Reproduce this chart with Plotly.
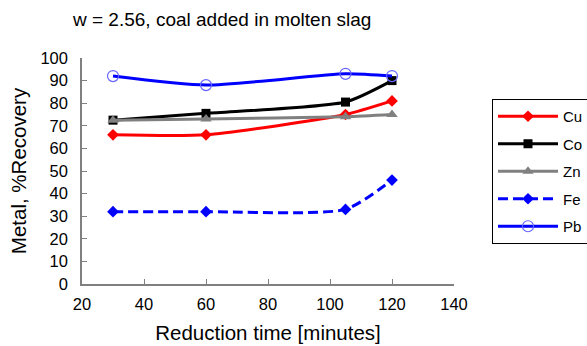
import plotly.graph_objects as go

time = [30, 60, 105, 120]
cu = [66, 66, 75, 81]
co = [72.5, 75.5, 80.5, 90]
zn = [72.5, 73, 74, 75]
fe = [32, 32, 33, 46]
pb = [92, 88, 93, 92]

x_ticks = [20, 40, 60, 80, 100, 120, 140]
y_ticks = [0, 10, 20, 30, 40, 50, 60, 70, 80, 90, 100]

fig = go.Figure()
series = [
    ("Cu", cu, dict(color="#ff0000", width=3, dash="solid"), dict(symbol="diamond", size=9, color="#ff0000")),
    ("Co", co, dict(color="#000000", width=3, dash="solid"), dict(symbol="square", size=9, color="#000000")),
    ("Zn", zn, dict(color="#808080", width=3, dash="solid"), dict(symbol="triangle-up", size=10, color="#808080")),
    ("Fe", fe, dict(color="#0000ff", width=3, dash="10px,5px"), dict(symbol="diamond", size=9, color="#0000ff")),
    ("Pb", pb, dict(color="#0000ff", width=3, dash="solid"),
     dict(symbol="circle-open", size=11, color="#6666ff", line=dict(width=1.2, color="#6666ff"))),
]
for name, vals, line, marker in series:
    fig.add_trace(go.Scatter(
        x=time, y=vals, name=name, mode="lines+markers",
        line=dict(shape="spline", smoothing=0.6, **line), marker=marker,
        legendgroup=name,
    ))

fig.update_layout(
    width=587, height=346,
    margin=dict(l=82, r=133, t=58, b=62, autoexpand=False),
    paper_bgcolor="white", plot_bgcolor="white",
    font=dict(family="Liberation Sans, Arial, sans-serif", size=16.5, color="black"),
    title=dict(text="w = 2.56, coal added in molten slag", x=73/587, xanchor="left",
               y=1 - 19/346, yanchor="middle", font=dict(size=19)),
    showlegend=True,
    legend=dict(x=492/587, y=1 - 99/346, xref="container", yref="container",
                xanchor="left", yanchor="top",
                bordercolor="black", borderwidth=1, bgcolor="white",
                font=dict(size=15), traceorder="grouped", tracegroupgap=5,
                itemwidth=60),
    xaxis=dict(range=[20, 140], tickvals=x_ticks, showgrid=False, zeroline=False,
               showline=True, linecolor="#808080", linewidth=1.5, automargin=False,
               ticks="inside", ticklen=5, tickcolor="#808080", ticklabelstandoff=4,
               title=dict(text="Reduction time [minutes]", font=dict(size=20.5), standoff=14)),
    yaxis=dict(range=[0, 100], tickvals=y_ticks, showgrid=False, zeroline=False,
               showline=True, linecolor="#808080", linewidth=1.5, automargin=False,
               ticks="inside", ticklen=5, tickcolor="#808080", ticklabelstandoff=9,
               title=dict(text="Metal, %Recovery", font=dict(size=20.5), standoff=8)),
)

fig.write_html("out.html", config={"displayModeBar": False},
               post_script="document.body.style.margin='0';")
